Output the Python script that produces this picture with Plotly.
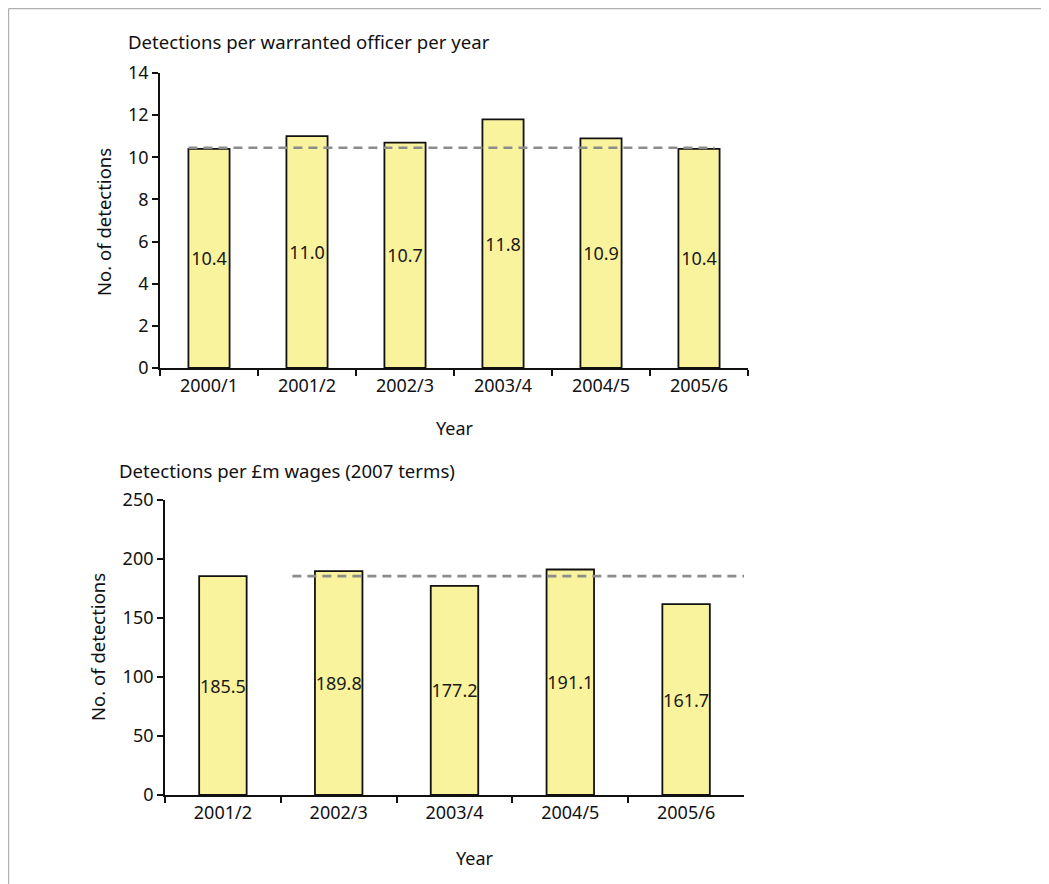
import plotly.graph_objects as go

# ---- data ----
years_top = ["2000/1", "2001/2", "2002/3", "2003/4", "2004/5", "2005/6"]
det_per_officer = [10.4, 11.0, 10.7, 11.8, 10.9, 10.4]
ref_officer = 10.45

years_bottom = ["2001/2", "2002/3", "2003/4", "2004/5", "2005/6"]
det_per_wages = [185.5, 189.8, 177.2, 191.1, 161.7]
ref_wages = 185.5

title_top = "Detections per warranted officer per year"
title_bottom = "Detections per £m wages (2007 terms)"
y_title = "No. of detections"
x_title = "Year"

FONT = "Noto Sans"
FS = 18
BAR_FILL = "#FAF39D"
W, H = 1049, 884
OX, OY = 8, 8  # page body margin compensation

def px_x(p):
    return (p - OX) / W

def px_y(p):
    return 1 - (p - OY) / H

fig = go.Figure()

fig.add_trace(go.Bar(
    x=years_top, y=det_per_officer, xaxis="x", yaxis="y",
    marker=dict(color=BAR_FILL, line=dict(color="#111111", width=1.8)),
    width=0.42,
    text=[f"{v:.1f}" for v in det_per_officer],
    textposition="inside", insidetextanchor="middle", textangle=0,
    constraintext="none",
    textfont=dict(family=FONT, size=FS, color="#1a1a1a"),
    showlegend=False, hoverinfo="x+y",
))
fig.add_trace(go.Bar(
    x=years_bottom, y=det_per_wages, xaxis="x2", yaxis="y2",
    marker=dict(color=BAR_FILL, line=dict(color="#111111", width=1.8)),
    width=0.41,
    text=[f"{v:.1f}" for v in det_per_wages],
    textposition="inside", insidetextanchor="middle", textangle=0,
    constraintext="none",
    textfont=dict(family=FONT, size=FS, color="#1a1a1a"),
    showlegend=False, hoverinfo="x+y",
))

axis_common = dict(
    showline=True, linecolor="#111111", linewidth=1.8,
    ticks="outside", tickcolor="#111111", tickwidth=1.8, ticklen=6,
    showgrid=False, zeroline=False, automargin=False,
    tickfont=dict(family=FONT, size=FS, color="#111111"),
)

fig.update_layout(
    width=W, height=H,
    margin=dict(l=0, r=0, t=0, b=0, pad=0),
    paper_bgcolor="white", plot_bgcolor="white",
    font=dict(family=FONT, size=FS, color="#111111"),
    xaxis=dict(domain=[px_x(160), px_x(748)], anchor="y", type="category",
               tickson="boundaries", range=[-0.5, 5.5], **axis_common),
    yaxis=dict(domain=[px_y(368), px_y(73)], anchor="x", range=[0, 14],
               dtick=2, **axis_common),
    xaxis2=dict(domain=[px_x(165), px_x(744)], anchor="y2", type="category",
                tickson="boundaries", range=[-0.5, 4.5], **axis_common),
    yaxis2=dict(domain=[px_y(795), px_y(500)], anchor="x2", range=[0, 250],
                dtick=50, **axis_common),
)

# reference dashed lines
dash_style = dict(color="#8c8c8c", width=2.6, dash="9px,6px")
fig.add_shape(type="line", xref="x", yref="y", x0=-0.21, x1=5.16,
              y0=ref_officer, y1=ref_officer, line=dash_style, layer="above")
fig.add_shape(type="line", xref="x2", yref="y2", x0=0.6, x1=4.5,
              y0=ref_wages, y1=ref_wages, line=dash_style, layer="above")

# page frame
fig.add_shape(type="line", xref="paper", yref="paper", x0=px_x(8.6), x1=1,
              y0=px_y(8.6), y1=px_y(8.6), line=dict(color="#b0b0b0", width=1.2))
fig.add_shape(type="line", xref="paper", yref="paper", x0=px_x(8.6), x1=px_x(8.6),
              y0=px_y(8.6), y1=0, line=dict(color="#b0b0b0", width=1.2))

ann = []
ann.append(dict(text=title_top, x=px_x(126), y=px_y(42), xanchor="left", yanchor="middle", size=18.6))
ann.append(dict(text=title_bottom, x=px_x(117), y=px_y(470), xanchor="left", yanchor="middle", size=18.6))
ann.append(dict(text=y_title, x=px_x(103), y=px_y(222), textangle=-90, xanchor="center", yanchor="middle", size=18.5))
ann.append(dict(text=y_title, x=px_x(97), y=px_y(647), textangle=-90, xanchor="center", yanchor="middle", size=18.5))
ann.append(dict(text=x_title, x=px_x(455), y=px_y(428), xanchor="center", yanchor="middle", size=FS))
ann.append(dict(text=x_title, x=px_x(475), y=px_y(858), xanchor="center", yanchor="middle", size=FS))
for a in ann:
    s = a.pop("size")
    a.update(xref="paper", yref="paper", showarrow=False,
             font=dict(family=FONT, size=s, color="#111111"))
fig.update_layout(annotations=ann)

fig.write_html("out.html")
